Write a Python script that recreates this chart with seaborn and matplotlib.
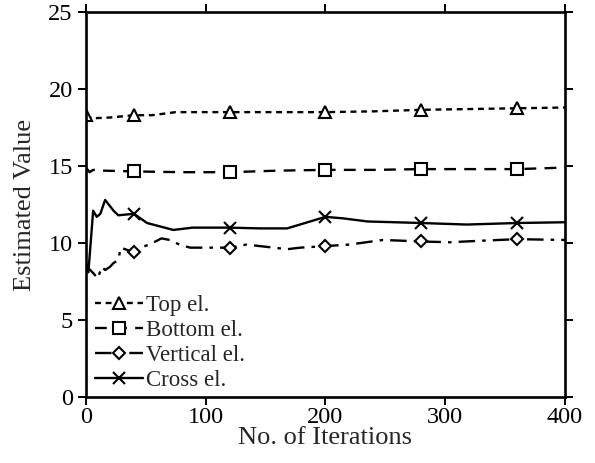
import matplotlib
matplotlib.use("Agg")
import matplotlib.pyplot as plt
import seaborn as sns
import numpy as np
import pandas as pd

# ---- data ----
marker_iters = [40, 120, 200, 280, 360]

top_x = [0, 5, 20, 40, 55, 65, 75, 120, 160, 200, 240, 280, 320, 360, 400]
top_y = [18.3, 18.1, 18.15, 18.3, 18.3, 18.4, 18.5, 18.5, 18.5, 18.5, 18.55, 18.65, 18.7, 18.75, 18.8]

bot_x = [0, 3, 6, 15, 40, 80, 120, 160, 200, 240, 280, 320, 360, 400]
bot_y = [14.9, 14.6, 14.75, 14.7, 14.65, 14.6, 14.6, 14.7, 14.75, 14.75, 14.8, 14.8, 14.8, 14.9]

ver_x = [0, 1, 6, 10, 13, 16, 20, 23, 27, 29, 40, 45, 53, 63, 70, 78, 87, 101, 120, 134,
         151, 168, 179, 200, 220, 248, 280, 304, 330, 360, 400]
ver_y = [8.7, 8.45, 8.05, 7.7, 8.45, 8.25, 8.45, 8.7, 8.9, 9.7, 9.4, 9.7, 9.9, 10.3, 10.2, 9.9,
         9.7, 9.7, 9.7, 9.9, 9.75, 9.6, 9.7, 9.8, 9.9, 10.2, 10.1, 10.05, 10.15, 10.25, 10.2]

crs_x = [0, 2, 6, 9, 12, 16, 23, 27, 40, 51, 73, 89, 120, 145, 168, 200, 215, 235, 280,
         318, 360, 400]
crs_y = [8.7, 8.1, 12.1, 11.7, 11.9, 12.8, 12.1, 11.8, 11.9, 11.3, 10.85, 11.0, 11.0, 10.95,
         10.95, 11.7, 11.6, 11.4, 11.3, 11.2, 11.3, 11.35]

series_labels = ["Top el.", "Bottom el.", "Vertical el.", "Cross el."]
x_ticks = [0, 100, 200, 300, 400]
y_ticks = [0, 5, 10, 15, 20, 25]

sns.set_theme(style="ticks")
plt.rcParams["font.family"] = ["Liberation Serif", "DejaVu Serif"]

fig = plt.figure(figsize=(5.95, 4.63), dpi=100)
ax = fig.add_axes([0.1445, 0.1425, 0.805, 0.8315])

def idx(xs, extra=()):
    return [i for i, v in enumerate(xs) if v in marker_iters or v in extra]

common = dict(color="black", linewidth=1.7, markersize=8, markerfacecolor="white",
              markeredgecolor="black", markeredgewidth=1.5, ax=ax, legend=False)

sns.lineplot(x=top_x, y=top_y, marker="^", linestyle=(0, (2.5, 2.0)),
             markevery=idx(top_x, (0,)), label=series_labels[0], **common)
sns.lineplot(x=bot_x, y=bot_y, marker="s", linestyle=(0, (5, 3.5)),
             markevery=idx(bot_x), label=series_labels[1], **common)
sns.lineplot(x=ver_x, y=ver_y, marker="D", linestyle=(0, (7, 3, 1.5, 3)),
             markevery=idx(ver_x), label=series_labels[2], **{**common, "markersize": 6.5})
sns.lineplot(x=crs_x, y=crs_y, marker="x", linestyle="-",
             markevery=idx(crs_x), label=series_labels[3], **{**common, "markersize": 9})

ax.set_xlim(0, 400)
ax.set_ylim(0, 25)
ax.set_xticks(x_ticks)
ax.set_yticks(y_ticks)
ax.tick_params(direction="out", length=5.5, width=1.4, top=True, right=True,
               labelsize=17.5, colors="black")
ax.tick_params(axis="y", pad=4)
ax.tick_params(axis="x", pad=2)
for s in ax.spines.values():
    s.set_visible(True)
    s.set_linewidth(1.9)
    s.set_color("black")
ax.set_xlabel("No. of Iterations", fontsize=19, labelpad=-1)
ax.set_ylabel("Estimated Value", fontsize=19, labelpad=9)

leg = ax.legend(loc="upper left", bbox_to_anchor=(0.0, 0.29), frameon=False,
                fontsize=16.5, handlelength=2.1, handletextpad=0.1, labelspacing=0.18,
                borderaxespad=0.2, borderpad=0.2)

fig.savefig("out.png", dpi=100)
